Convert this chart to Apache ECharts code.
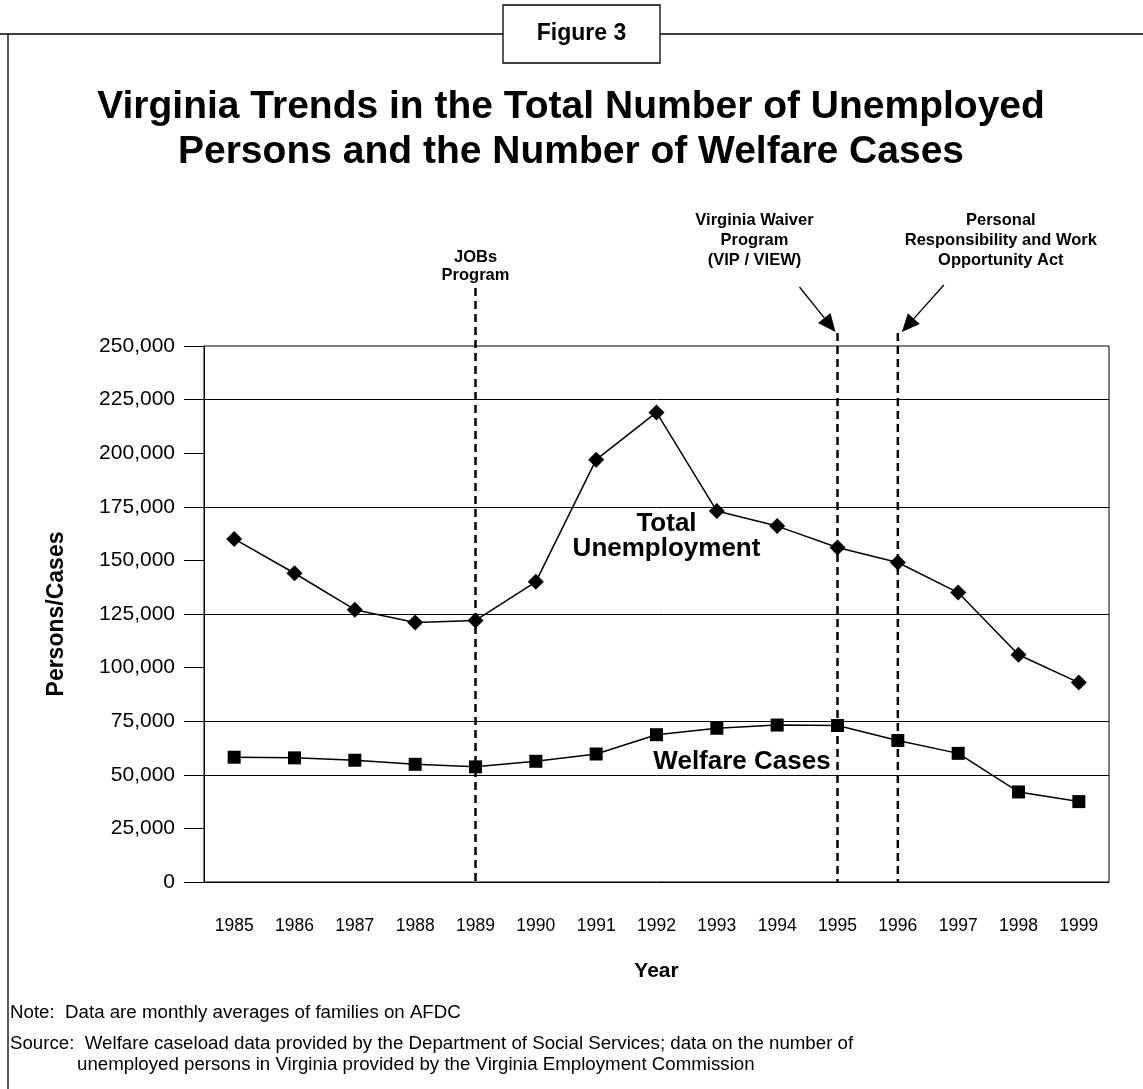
<!DOCTYPE html>
<html>
<head>
<meta charset="utf-8">
<title>Figure 3</title>
<script src="https://cdn.jsdelivr.net/npm/echarts@6/dist/echarts.min.js"></script>
<style>
  html, body { margin: 0; padding: 0; background: #fff; }
  #chart { width: 1143px; height: 1089px; }
</style>
</head>
<body>
<div id="chart"></div>
<script>
// Years on the horizontal axis
const years = ['1985','1986','1987','1988','1989','1990','1991','1992','1993','1994','1995','1996','1997','1998','1999'];
// Total number of unemployed persons in Virginia
const unemployment = [160000, 144000, 127000, 121000, 122000, 140000, 197000, 219000, 173000, 166000, 156000, 149000, 135000, 106000, 93000];
// Monthly average number of families on AFDC
const welfareCases = [58200, 57900, 56800, 54900, 53700, 56300, 59700, 68700, 71700, 73200, 73000, 66000, 60000, 42000, 37500];
// Horizontal rules drawn across the plot
const ruleValues = [50000, 75000, 125000, 175000, 225000];
// Program milestones marked with dashed lines
const milestoneYears = ['1989', '1995', '1996'];

const SANS = "'Liberation Sans', Arial, Helvetica, sans-serif";

const chart = echarts.init(document.getElementById('chart'), null, { renderer: 'canvas' });

const option = {
  backgroundColor: '#ffffff',
  animation: false,
  grid: {
    left: 204, right: 34, top: 346, bottom: 207,
    show: true, borderColor: '#000', borderWidth: 1, backgroundColor: 'transparent'
  },
  xAxis: {
    type: 'category',
    data: years,
    boundaryGap: true,
    name: 'Year',
    nameLocation: 'middle',
    nameGap: 79,
    nameTextStyle: { fontFamily: SANS, fontWeight: 'bold', fontSize: 21, color: '#000' },
    axisLine: { lineStyle: { color: '#000', width: 1 } },
    axisTick: { alignWithLabel: true, length: 21, lineStyle: { color: '#000', width: 1 } },
    axisLabel: { margin: 35, fontFamily: SANS, fontSize: 17.5, color: '#000', interval: 0 },
    splitLine: { show: false }
  },
  yAxis: {
    type: 'value',
    min: 0, max: 250000, interval: 25000,
    name: 'Persons/Cases',
    nameLocation: 'middle',
    nameGap: 136,
    nameRotate: 90,
    nameTextStyle: { fontFamily: SANS, fontWeight: 'bold', fontSize: 23, color: '#000' },
    axisLine: { show: true, lineStyle: { color: '#000', width: 1 } },
    axisTick: { show: true, inside: false, length: 20, lineStyle: { color: '#000', width: 1 } },
    axisLabel: {
      margin: 29, fontFamily: SANS, fontSize: 21, color: '#000',
      formatter: v => v.toLocaleString('en-US')
    },
    splitLine: { show: false }
  },
  series: [
    {
      name: 'Total Unemployment',
      type: 'line',
      data: unemployment,
      symbol: 'diamond',
      symbolSize: 16,
      itemStyle: { color: '#000' },
      lineStyle: { color: '#000', width: 1.5 },
      z: 5
    },
    {
      name: 'Welfare Cases',
      type: 'line',
      data: welfareCases,
      symbol: 'rect',
      symbolSize: 13,
      itemStyle: { color: '#000' },
      lineStyle: { color: '#000', width: 1.5 },
      z: 5,
      markLine: {
        silent: true,
        symbol: ['none', 'none'],
        label: { show: false },
        lineStyle: { color: '#000', width: 1, type: 'solid' },
        data: ruleValues.map(v => ({ yAxis: v })),
        z: 1
      }
    }
  ]
};

chart.setOption(option);

// Annotation layer placed from the axis scales
const px = (cat, val) => chart.convertToPixel({ xAxisIndex: 0, yAxisIndex: 0 }, [cat, val]);
const yTop = px(years[0], 250000)[1];
const yBottom = px(years[0], 0)[1];
const xJobs = px(milestoneYears[0], 0)[0];
const xWaiver = px(milestoneYears[1], 0)[0];
const xPrwora = px(milestoneYears[2], 0)[0];

function dashed(x, y1, y2) {
  return {
    type: 'line', z: 3,
    shape: { x1: x, y1: y1, x2: x, y2: y2 },
    style: { stroke: '#000', lineWidth: 2.5, lineDash: [8, 5] }
  };
}

function arrow(x1, y1, x2, y2) {
  const ang = Math.atan2(y2 - y1, x2 - x1);
  const len = 18, half = 8;
  const bx = x2 - len * Math.cos(ang), by = y2 - len * Math.sin(ang);
  const nx = -Math.sin(ang), ny = Math.cos(ang);
  return [
    { type: 'line', z: 4, shape: { x1: x1, y1: y1, x2: bx, y2: by }, style: { stroke: '#000', lineWidth: 1.3 } },
    { type: 'polygon', z: 4,
      shape: { points: [[x2, y2], [bx + nx * half, by + ny * half], [bx - nx * half, by - ny * half]] },
      style: { fill: '#000' } }
  ];
}

function label(text, x, y, size, lh) {
  return {
    type: 'text', z: 6, x: x, y: y,
    style: {
      text: text, fill: '#000', font: 'bold ' + size + 'px ' + SANS,
      textAlign: 'center', textVerticalAlign: 'middle', lineHeight: lh || size + 2
    }
  };
}

function note(text, x, y) {
  return {
    type: 'text', x: x, y: y,
    style: { text: text, fill: '#000', font: '18.7px ' + SANS, textVerticalAlign: 'middle' }
  };
}

const uPt = px('1992', 161000);
const wPt = px('1993', 56000);

const graphics = [
  // Page frame with the figure tab
  { type: 'line', shape: { x1: 0, y1: 34, x2: 503, y2: 34 }, style: { stroke: '#000', lineWidth: 1.3 } },
  { type: 'line', shape: { x1: 660, y1: 34, x2: 1143, y2: 34 }, style: { stroke: '#000', lineWidth: 1.3 } },
  { type: 'line', shape: { x1: 8, y1: 34, x2: 8, y2: 1089 }, style: { stroke: '#000', lineWidth: 1.3 } },
  { type: 'rect', shape: { x: 503, y: 5, width: 157, height: 58 }, style: { fill: '#fff', stroke: '#000', lineWidth: 1.3 } },
  { type: 'text', x: 581.5, y: 34, style: { text: 'Figure 3', fill: '#000', font: 'bold 23px ' + SANS, textAlign: 'center', textVerticalAlign: 'middle' } },

  // Title
  label('Virginia Trends in the Total Number of Unemployed\nPersons and the Number of Welfare Cases', 571, 130, 39, 45),

  // Milestone lines
  dashed(xJobs, yTop - 58, yBottom),
  dashed(xWaiver, yTop - 13, yBottom),
  dashed(xPrwora, yTop - 13, yBottom),

  label('JOBs\nProgram', xJobs, yTop - 80, 16.5, 18),
  label('Virginia Waiver\nProgram\n(VIP / VIEW)', xWaiver - 83, yTop - 106, 16.5, 20),
  label('Personal\nResponsibility and Work\nOpportunity Act', xPrwora + 103, yTop - 106, 16.5, 20),
  ...arrow(xWaiver - 38, yTop - 59, xWaiver - 2, yTop - 14),
  ...arrow(xPrwora + 46, yTop - 61, xPrwora + 4, yTop - 14),

  // Series labels
  label('Total\nUnemployment', uPt[0] + 10, uPt[1], 26, 25),
  label('Welfare Cases', (wPt[0] + px('1994', 0)[0]) / 2 - 5, wPt[1], 26, 25),

  // Notes
  note('Note:  Data are monthly averages of families on AFDC', 10, 1013),
  note('Source:  Welfare caseload data provided by the Department of Social Services; data on the number of', 10, 1044),
  note('unemployed persons in Virginia provided by the Virginia Employment Commission', 77, 1065)
];

chart.setOption({ graphic: graphics });
</script>
</body>
</html>
